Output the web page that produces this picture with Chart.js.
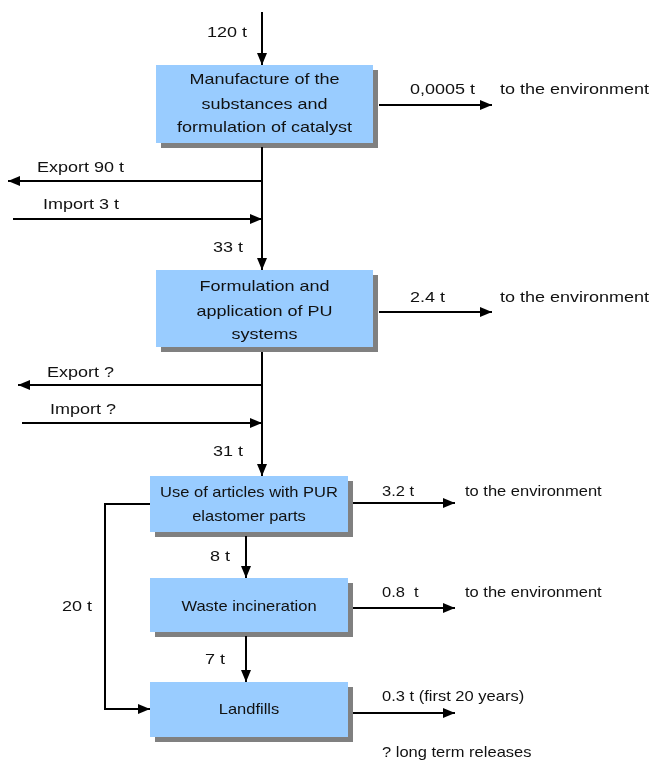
<!DOCTYPE html>
<html>
<head>
<meta charset="utf-8">
<script src="https://cdn.jsdelivr.net/npm/chart.js@4/dist/chart.umd.min.js"></script>
<style>
  html, body { margin: 0; padding: 0; background: #fff; }
  #wrap { width: 651px; height: 762px; position: relative; }
</style>
</head>
<body>
<div id="wrap"><canvas id="flow"></canvas></div>
<script>
// --- data: stages of the flow and the amounts (labels as printed)
const stages = [
  ['Manufacture of the', 'substances and', 'formulation of catalyst'],
  ['Formulation and', 'application of PU', 'systems'],
  ['Use of articles with PUR', 'elastomer parts'],
  ['Waste incineration'],
  ['Landfills']
];
const inflows = ['120 t', '33 t', '31 t', '8 t', '7 t'];
const releases = ['0,0005 t', '2.4 t', '3.2 t', '0.8  t', '0.3 t (first 20 years)'];
const releaseTargets = ['to the environment', 'to the environment', 'to the environment', 'to the environment', ''];
const exportsOut = ['Export 90 t', 'Export ?'];
const importsIn = ['Import 3 t', 'Import ?'];
const bypass = '20 t';
const longTerm = '? long term releases';

// --- layout (pixels in the 651 x 762 frame)
const boxes = [
  [156, 373, 65, 143],
  [156, 373, 270, 347],
  [150, 348, 476, 532],
  [150, 348, 578, 632],
  [150, 348, 682, 737]
];
const boxLineY = [[80, 105, 128], [287, 312, 335], [493, 517], [607], [710]];
const shadow = 5;
const inflowArrows = [
  [[262, 12], [262, 65]],
  [[262, 147], [262, 270]],
  [[262, 352], [262, 476]],
  [[246, 536], [246, 578]],
  [[246, 636], [246, 682]]
];
const inflowText = [[207, 33], [213, 248], [213, 452], [210, 557], [205, 660]];
const releaseArrows = [
  [[379, 105], [492, 105]],
  [[379, 312], [492, 312]],
  [[353, 503], [455, 503]],
  [[353, 608], [455, 608]],
  [[353, 713], [455, 713]]
];
const releaseText = [[410, 90], [410, 298], [382, 492], [382, 593], [382, 697]];
const targetText = [[500, 90], [500, 298], [465, 492], [465, 593], [465, 697]];
const exportArrows = [[[262, 181], [8, 181]], [[262, 385], [18, 385]]];
const exportText = [[37, 168], [47, 373]];
const importArrows = [[[13, 219], [262, 219]], [[22, 423], [262, 423]]];
const importText = [[43, 205], [50, 410]];
const bypassArrow = [[150, 504], [105, 504], [105, 709], [150, 709]];
const bypassText = [62, 607];
const longTermText = [382, 753];

const FONT = '15px "Liberation Sans", Arial, sans-serif';
// the lower half of the picture is squeezed a bit more than the upper half
const stretchFor = i => (i < 2 ? 1.2 : 1.1);

const pts = arr => arr.map(p => ({x: p[0], y: p[1]}));
const rect = (b, d) => pts([[b[0] + d, b[2] + d], [b[1] + d, b[2] + d], [b[1] + d, b[3] + d], [b[0] + d, b[3] + d], [b[0] + d, b[2] + d]]);

const datasets = [];
boxes.forEach(b => {
  datasets.push({data: rect(b, shadow), backgroundColor: '#808080', borderWidth: 0, fill: 'shape', order: 3});
  datasets.push({data: rect(b, 0), backgroundColor: '#99CCFF', borderWidth: 0, fill: 'shape', order: 2});
});
const arrowSet = (p, head) => ({data: pts(p), borderColor: '#000', borderWidth: 2, fill: false, order: 1, arrow: head});
inflowArrows.forEach(a => datasets.push(arrowSet(a, true)));
releaseArrows.forEach(a => datasets.push(arrowSet(a, true)));
exportArrows.forEach(a => datasets.push(arrowSet(a, true)));
importArrows.forEach(a => datasets.push(arrowSet(a, true)));
datasets.push(arrowSet(bypassArrow, true));

const arrowHeads = {
  id: 'arrowHeads',
  afterDatasetsDraw(chart) {
    const ctx = chart.ctx;
    chart.data.datasets.forEach((ds, i) => {
      if (!ds.arrow) return;
      const pts = chart.getDatasetMeta(i).data;
      const a = pts[pts.length - 2], b = pts[pts.length - 1];
      const ang = Math.atan2(b.y - a.y, b.x - a.x);
      const len = 12, half = 5;
      ctx.save();
      ctx.translate(b.x, b.y);
      ctx.rotate(ang);
      ctx.beginPath();
      ctx.moveTo(0, 0);
      ctx.lineTo(-len, -half);
      ctx.lineTo(-len, half);
      ctx.closePath();
      ctx.fillStyle = '#000';
      ctx.fill();
      ctx.restore();
    });
  }
};

const labels = {
  id: 'labels',
  afterDraw(chart) {
    const ctx = chart.ctx, sx = chart.scales.x, sy = chart.scales.y;
    const put = (text, x, y, stretch, align) => {
      ctx.save();
      ctx.translate(sx.getPixelForValue(x), sy.getPixelForValue(y));
      ctx.scale(stretch, 1);
      ctx.font = FONT;
      ctx.fillStyle = '#111';
      ctx.textAlign = align || 'left';
      ctx.textBaseline = 'middle';
      ctx.fillText(text, 0, 0);
      ctx.restore();
    };
    stages.forEach((lines, i) => {
      const cx = (boxes[i][0] + boxes[i][1]) / 2;
      lines.forEach((t, j) => put(t, cx, boxLineY[i][j], stretchFor(i), 'center'));
    });
    inflows.forEach((t, i) => put(t, inflowText[i][0], inflowText[i][1], 1.2));
    releases.forEach((t, i) => put(t, releaseText[i][0], releaseText[i][1], stretchFor(i)));
    releaseTargets.forEach((t, i) => put(t, targetText[i][0], targetText[i][1], stretchFor(i)));
    exportsOut.forEach((t, i) => put(t, exportText[i][0], exportText[i][1], 1.2));
    importsIn.forEach((t, i) => put(t, importText[i][0], importText[i][1], 1.2));
    put(bypass, bypassText[0], bypassText[1], 1.2);
    put(longTerm, longTermText[0], longTermText[1], 1.1);
  }
};

new Chart(document.getElementById('flow'), {
  type: 'scatter',
  data: {datasets: datasets},
  options: {
    responsive: true,
    maintainAspectRatio: false,
    animation: false,
    events: [],
    showLine: true,
    elements: {point: {radius: 0}, line: {tension: 0}},
    layout: {padding: 0},
    scales: {
      x: {type: 'linear', min: 0, max: 651, display: false},
      y: {type: 'linear', min: 0, max: 762, reverse: true, display: false}
    },
    plugins: {legend: {display: false}, tooltip: {enabled: false}}
  },
  plugins: [arrowHeads, labels]
});
</script>
</body>
</html>
